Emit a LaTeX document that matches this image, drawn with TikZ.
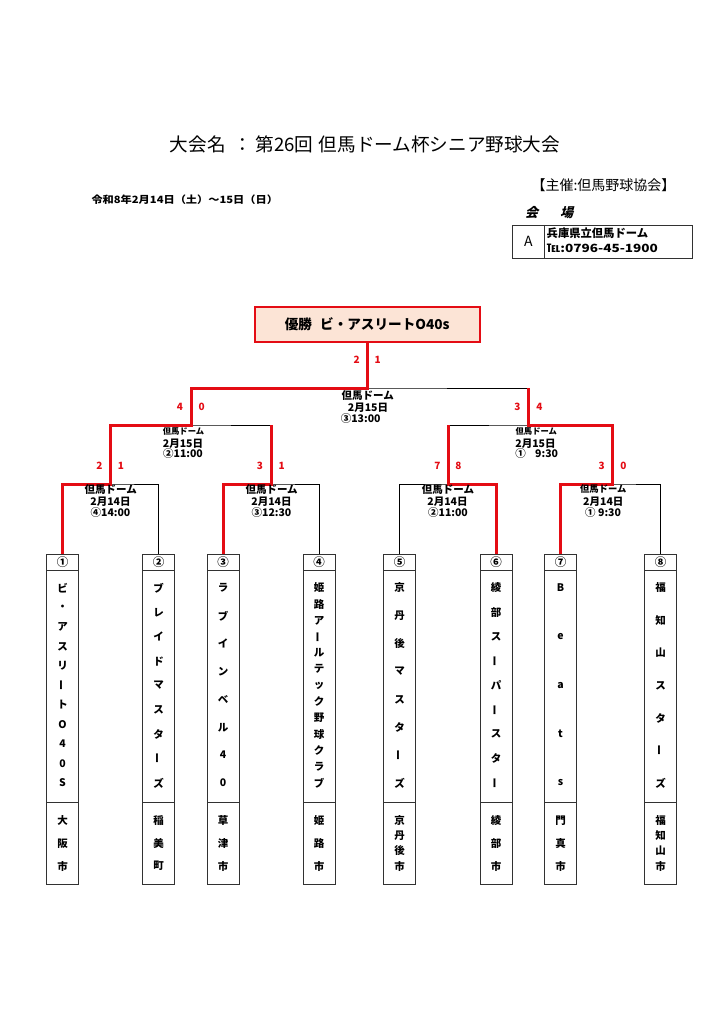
\documentclass[tikz,border=0pt]{standalone}
\usepackage{fontspec}
\setmainfont{Noto Sans CJK JP}
\newfontfamily\slantfont{Noto Sans CJK JP}[FakeSlant=0.25]
\definecolor{wred}{RGB}{228,12,20}
\definecolor{peach}{RGB}{252,228,214}
\definecolor{boxgray}{RGB}{50,50,50}
\newcommand{\vbar}{\rotatebox[origin=c]{90}{ー}}
\newcommand{\teamcol}[5]{%
  \node[teambox] (#1) at (#2,719) {};
  \draw[boxl] ([yshift=-16pt]#1.north west) -- ([yshift=-16pt]#1.north east);
  \draw[boxl] ([yshift=82pt]#1.south west) -- ([yshift=82pt]#1.south east);
  \node[numf] (#1num) at ([yshift=-8pt]#1.north) {#3};
  \pgfmathsetmacro\tmgap{195/(#4-1)}
  \foreach \c [count=\i] in {#5} {\node[ch] at (#2,{588+(\i-1)*\tmgap}) {\c};}
}
\newcommand{\citycol}[3]{%
  \pgfmathsetmacro\tmcgap{45.5/(#2-1)}
  \foreach \c [count=\i] in {#3} {\node[ch] at (#1,{820.5+(\i-1)*\tmcgap}) {\c};}
}
\begin{document}
\begin{tikzpicture}[x=1pt,y=-1pt,
  every node/.style={inner sep=0pt, outer sep=0pt},
  thinl/.style={draw=black, line width=0.9pt},
  redl/.style={draw=wred, line width=3pt},
  boxl/.style={draw=boxgray, line width=0.9pt},
  teambox/.style={boxl, minimum width=32pt, minimum height=330pt},
  score/.style={text=wred, font=\bfseries\fontsize{10}{12}\selectfont},
  lbl/.style={font=\bfseries\fontsize{10.5}{12}\selectfont},
  lbls/.style={font=\bfseries\fontsize{8.3}{10}\selectfont},
  lblm/.style={font=\bfseries\fontsize{9.3}{11}\selectfont},
  ch/.style={font=\bfseries\fontsize{10.5}{12}\selectfont},
  numf/.style={font=\bfseries\fontsize{11.5}{12}\selectfont}
]
\fill[white] (0,0) rectangle (724,1024);
\useasboundingbox (0,0) rectangle (724,1024);

% header
\node[font=\fontsize{18.6}{20}\selectfont] (title) at (365,144) {大会名\hspace{0.4em}：\hspace{0.2em}第26回\hspace{0.3em}但馬ドーム杯シニア野球大会};
\node[font=\bfseries\fontsize{10}{12}\selectfont, anchor=west] (date) at (91.5,200) {\scalebox{1.12}[1]{令和8年2月14日（土）～15日（日）}};
\node[font=\fontsize{14}{15}\selectfont] (sponsor) at (603.5,185) {【主催:但馬野球協会】};
\node[font=\slantfont\bfseries\fontsize{13}{15}\selectfont] (venuehead) at (549.2,212.7) {会\hspace{1.7em}場};
\node[boxl, minimum width=180pt, minimum height=33.3pt] (venue) at (602.7,241.7) {};
\draw[boxl] (544.3,225) -- (544.3,258.3);
\node[font=\fontsize{14}{15}\selectfont] (va) at (528.3,241.7) {A};
\node[font=\bfseries\fontsize{11.3}{13}\selectfont, anchor=west] (vname) at (546.7,232.7) {兵庫県立但馬ドーム};
\node[font=\bfseries\fontsize{11.3}{13}\selectfont, anchor=west] (vtel) at (546.7,248.3) {\scalebox{1.2}[1]{℡:0796-45-1900}};

% champion
\node[draw=wred, line width=2.3pt, fill=peach, minimum width=225pt, minimum height=35pt,
  font=\bfseries\fontsize{13.6}{15}\selectfont] (champ) at (367.2,324.3) {優勝\hspace{0.6em}ビ・アスリートO40s};

% teams
\teamcol{t1}{62.5}{①}{11}{ビ,・,ア,ス,リ,\vbar,ト,O,4,0,S}
\teamcol{t2}{158.7}{②}{9}{ブ,レ,イ,ド,マ,ス,タ,\vbar,ズ}
\teamcol{t3}{223}{③}{8}{ラ,ブ,イ,ン,ベ,ル,4,0}
\teamcol{t4}{319.2}{④}{13}{姫,路,ア,\vbar,ル,テ,ッ,ク,野,球,ク,ラ,ブ}
\teamcol{t5}{399.5}{⑤}{8}{京,丹,後,マ,ス,タ,\vbar,ズ}
\teamcol{t6}{496.2}{⑥}{9}{綾,部,ス,\vbar,パ,\vbar,ス,タ,\vbar}
\teamcol{t7}{560.5}{⑦}{5}{B,e,a,t,s}
\teamcol{t8}{660.5}{⑧}{7}{福,知,山,ス,タ,\vbar,ズ}
\citycol{62.5}{3}{大,阪,市}
\citycol{158.7}{3}{稲,美,町}
\citycol{223}{3}{草,津,市}
\citycol{319.2}{3}{姫,路,市}
\citycol{399.5}{4}{京,丹,後,市}
\citycol{496.2}{3}{綾,部,市}
\citycol{560.5}{3}{門,真,市}
\citycol{660.5}{4}{福,知,山,市}

% bracket points
\coordinate (m1) at (110.7,484);
\coordinate (m2) at (271,484);
\coordinate (m3) at (448.3,484);
\coordinate (m4) at (612.3,484);
\coordinate (s1) at (191.7,425);
\coordinate (s2) at (528.3,425);
\coordinate (f) at (367.2,388);

% thin lines
\draw[thinl] (t1.north) |- (m1) -| (t2.north);
\draw[thinl] (t3.north) |- (m2) -| (t4.north);
\draw[thinl] (t5.north) |- (m3) -| (t6.north);
\draw[thinl] (t7.north) |- (m4) -| (t8.north);
\draw[thinl] (m1) |- (s1) -| (m2);
\draw[thinl] (m3) |- (s2) -| (m4);
\draw[thinl] (s1) |- (f) -| (s2);

% red winner paths
\draw[redl] (t1.north) |- (m1) |- (s1) |- (f) -- (champ.south);
\draw[redl] (t3.north) |- (m2) -- (m2 |- s1);
\draw[redl] (t6.north) |- (m3) -- (m3 |- s2);
\draw[redl] (t7.north) |- (m4) |- (s2) -- (s2 |- f);

% scores
\node[score] (sc1a) at (99.3,466) {2};  \node[score] (sc1b) at (121,466) {1};
\node[score] (sc2a) at (260,466) {3};   \node[score] (sc2b) at (281.7,466) {1};
\node[score] (sc3a) at (437.3,466) {7}; \node[score] (sc3b) at (458.3,466) {8};
\node[score] (sc4a) at (601.7,466) {3}; \node[score] (sc4b) at (623.3,466) {0};
\node[score] (ss1a) at (180,407.3) {4}; \node[score] (ss1b) at (201.7,407.3) {0};
\node[score] (ss2a) at (517.3,407.3) {3}; \node[score] (ss2b) at (539.3,407.3) {4};
\node[score] (sfa) at (356.7,360) {2};  \node[score] (sfb) at (377.7,360) {1};

% match labels
\node[lbl] at (110.8,489.3) {但馬ドーム};
\node[lbl] at (110.5,501.7) {2月14日};
\node[lbl] at (110.5,512.7) {④14:00};
\node[lbl] at (271.6,489.3) {但馬ドーム};
\node[lbl] at (271.5,501.7) {2月14日};
\node[lbl] at (271.5,512.7) {③12:30};
\node[lbl] at (448,489.3) {但馬ドーム};
\node[lbl] at (447.5,501.7) {2月14日};
\node[lbl] at (448,512.7) {②11:00};
\node[lblm] at (603.3,489.3) {但馬ドーム};
\node[lbl] at (603.3,501.7) {2月14日};
\node[lbl] at (603,512.7) {①\hspace{0.25em}9:30};
\node[lbls] at (183.5,431) {但馬ドーム};
\node[lbl] at (183,443.3) {2月15日};
\node[lbl] at (183,454) {②11:00};
\node[lbls] at (536.3,431) {但馬ドーム};
\node[lbl] at (535.5,443.3) {2月15日};
\node[lbl] at (536.7,454) {①\hspace{0.9em}9:30};
\node[lbl] at (367.7,396) {但馬ドーム};
\node[lbl] at (368,407.7) {2月15日};
\node[lbl] at (360.7,418.3) {③13:00};
\end{tikzpicture}
\end{document}
